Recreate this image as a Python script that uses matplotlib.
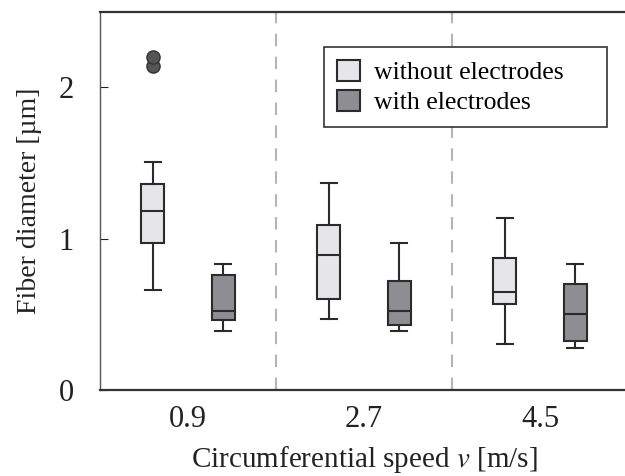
import matplotlib
matplotlib.use("Agg")
from matplotlib import pyplot as plt
from matplotlib.patches import Patch

plt.rcParams['font.family'] = ['Liberation Serif', 'DejaVu Serif']
plt.rcParams['mathtext.fontset'] = 'stix'

speeds = ['0.9', '2.7', '4.5']
series = ['without electrodes', 'with electrodes']

# box stats: whislo, q1, med, q3, whishi
without_el = [
    [0.66, 0.97, 1.18, 1.36, 1.51],
    [0.47, 0.60, 0.89, 1.09, 1.37],
    [0.30, 0.57, 0.65, 0.87, 1.14],
]
with_el = [
    [0.39, 0.46, 0.52, 0.76, 0.83],
    [0.39, 0.43, 0.52, 0.72, 0.97],
    [0.28, 0.32, 0.50, 0.70, 0.83],
]
without_fliers = [[2.14, 2.20], [], []]
with_fliers = [[], [], []]

light = '#e6e6e8'
dark = '#8e8e92'
edge = '#2b2b2b'


def make_stats(rows, fliers):
    out = []
    for r, f in zip(rows, fliers):
        out.append(dict(whislo=r[0], q1=r[1], med=r[2], q3=r[3], whishi=r[4], fliers=f))
    return out


fig = plt.figure(figsize=(6.25, 4.76), dpi=100)
ax = fig.add_axes([0.16, 0.181, 0.845, 0.794])

pos = list(range(len(speeds)))
common = dict(widths=0.13, patch_artist=True, showfliers=True,
              whiskerprops=dict(color=edge, lw=1.5),
              capprops=dict(color=edge, lw=1.5),
              medianprops=dict(color=edge, lw=1.5),
              flierprops=dict(marker='o', markersize=9.5, markerfacecolor='#555555',
                              markeredgecolor='#333333'))
b1 = ax.bxp(make_stats(without_el, without_fliers), positions=[p - 0.2 for p in pos],
            boxprops=dict(facecolor=light, edgecolor=edge, lw=1.5), **common)
b2 = ax.bxp(make_stats(with_el, with_fliers), positions=[p + 0.2 for p in pos],
            boxprops=dict(facecolor=dark, edgecolor=edge, lw=1.5), **common)
for c in b1['caps'] + b2['caps']:
    xd = c.get_xdata()
    m = (xd[0] + xd[1]) / 2
    c.set_xdata([m - 0.045, m + 0.045])

for xv in [0.5, 1.5]:
    ax.axvline(xv, color='#b5b5b5', lw=1.5, ls=(0, (6, 5)), zorder=0)

ax.set_xlim(-0.5, 2.5)
ax.set_ylim(0, 2.5)
ax.set_xticks(pos)
ax.set_xticklabels(speeds)
ax.set_yticks([0, 1, 2])
ax.tick_params(axis='x', length=0, labelsize=22, pad=11, colors='#222222')
ax.tick_params(axis='y', direction='in', length=6, labelsize=22, pad=19, colors='#222222', width=0.8)
for s in ax.spines.values():
    s.set_linewidth(1.6)
    s.set_color('#333333')
ax.spines['left'].set_linewidth(1.0)
ax.spines['left'].set_color('#555555')

ax.set_xlabel('Circumferential speed $v$ [m/s]', fontsize=21, labelpad=7, color='#222222')
ax.set_ylabel('Fiber diameter [µm]', fontsize=20, labelpad=12, color='#222222')

handles = [Patch(facecolor=light, edgecolor=edge, lw=1.5, label=series[0]),
           Patch(facecolor=dark, edgecolor=edge, lw=1.5, label=series[1])]
leg = ax.legend(handles=handles, loc='upper left', bbox_to_anchor=(0.424, 0.0, 0.536, 0.907),
                mode='expand', borderaxespad=0, fontsize=18.5, fancybox=False, framealpha=1,
                edgecolor='#333333', handlelength=0.9, handleheight=0.9,
                handletextpad=0.55, labelspacing=0.2, borderpad=0.5)
leg.get_frame().set_linewidth(1.2)

fig.savefig('out.png', dpi=100)
